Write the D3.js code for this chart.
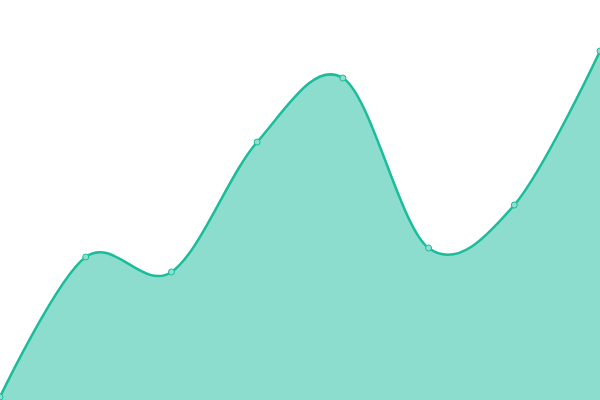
<!DOCTYPE html>
<meta charset="utf-8">
<head>
    <style>
        body { margin: 0; width: 600px; height: 400px; background: #fff; }
        svg { display: block; }
        .area { fill: #1abc9c; fill-opacity: 0.5; }
        .line { fill: none; stroke: #1abc9c; stroke-width: 2.5; }
        .dot { fill: #8de0d0; stroke: #1abc9c; stroke-width: 1; }
    </style>
</head>
<body>
    <script src="https://d3js.org/d3.v7.min.js"></script>
    <script>
        // y axis 0..400 with no ticks shown
        var categories = ["1", "2", "3", "4", "5", "6", "7", "8"];
        var values = [3, 143, 128, 258, 322, 152, 195, 349];

        var width = 600,
            height = 400;

        var svg = d3.select("body").append("svg")
            .attr("width", width)
            .attr("height", height);

        var x = d3.scalePoint()
            .domain(categories)
            .range([0, width]);

        var y = d3.scaleLinear()
            .domain([0, 400])
            .range([height, 0]);

        var data = categories.map(function (c, i) { return { c: c, v: values[i] }; });

        var area = d3.area()
            .curve(d3.curveCardinal)
            .x(function (d) { return x(d.c); })
            .y0(height)
            .y1(function (d) { return y(d.v); });

        var line = d3.line()
            .curve(d3.curveCardinal)
            .x(function (d) { return x(d.c); })
            .y(function (d) { return y(d.v); });

        svg.append("path")
            .datum(data)
            .attr("class", "area")
            .attr("d", area);

        svg.append("path")
            .datum(data)
            .attr("class", "line")
            .attr("d", line);

        svg.selectAll(".dot")
            .data(data)
            .enter().append("circle")
            .attr("class", "dot")
            .attr("cx", function (d) { return x(d.c); })
            .attr("cy", function (d) { return y(d.v); })
            .attr("r", 3);
    </script>
</body>
